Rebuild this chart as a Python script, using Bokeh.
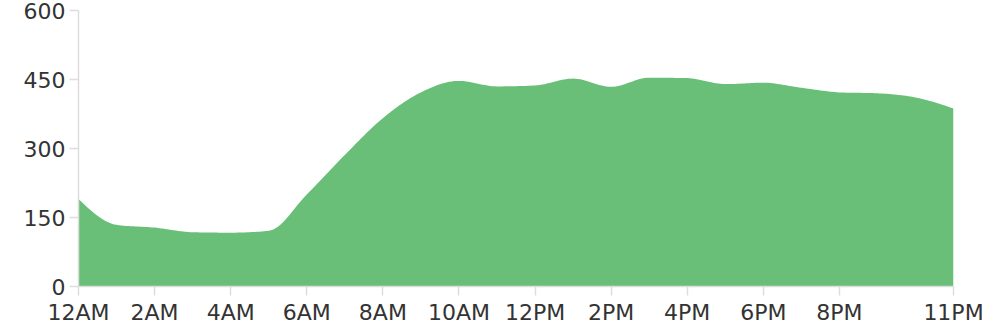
from bokeh.plotting import figure
from bokeh.models import Range1d, FixedTicker, ColumnDataSource
from bokeh.embed import file_html
from bokeh.resources import INLINE

# Data: hourly values
hours = list(range(24))
counts = [190, 134, 128, 118, 117, 121, 200, 286, 366, 422, 447, 435,
          437, 452, 434, 454, 453, 440, 443, 432, 422, 420, 411, 387]

x_ticks = [0, 2, 4, 6, 8, 10, 12, 14, 16, 18, 20, 23]
x_tick_labels = ["12AM", "2AM", "4AM", "6AM", "8AM", "10AM", "12PM",
                 "2PM", "4PM", "6PM", "8PM", "11PM"]
y_ticks = [0, 150, 300, 450, 600]

FONT = "DejaVu Sans"
FONT_SIZE = "22px"
AXIS_COLOR = "#dddddd"
TEXT_COLOR = "#333333"


def monotone_curve(xs, ys, steps=16):
    """Render a monotone-X cubic curve (like d3.curveMonotoneX) through the data."""
    n = len(xs)
    h = [xs[i + 1] - xs[i] for i in range(n - 1)]
    s = [(ys[i + 1] - ys[i]) / h[i] for i in range(n - 1)]
    t = [0.0] * n
    sign = lambda v: (v > 0) - (v < 0)
    for i in range(1, n - 1):
        s0, s1 = s[i - 1], s[i]
        p = (s0 * h[i] + s1 * h[i - 1]) / (h[i - 1] + h[i])
        t[i] = (sign(s0) + sign(s1)) * min(abs(s0), abs(s1), 0.5 * abs(p)) if (s0 * s1) > 0 else 0.0
    t[0] = (3 * s[0] - t[1]) / 2 if n > 2 else s[0]
    t[-1] = (3 * s[-1] - t[-2]) / 2 if n > 2 else s[-1]
    out_x, out_y = [], []
    for i in range(n - 1):
        x0, x1, y0, y1, dx = xs[i], xs[i + 1], ys[i], ys[i + 1], h[i]
        for k in range(steps):
            u = k / steps
            h00 = 2 * u**3 - 3 * u**2 + 1
            h10 = u**3 - 2 * u**2 + u
            h01 = -2 * u**3 + 3 * u**2
            h11 = u**3 - u**2
            out_x.append(x0 + u * dx)
            out_y.append(h00 * y0 + h10 * dx * t[i] + h01 * y1 + h11 * dx * t[i + 1])
    out_x.append(xs[-1])
    out_y.append(ys[-1])
    return out_x, out_y


cx, cy = monotone_curve(hours, counts)
src = ColumnDataSource(dict(x=cx, y=cy))

p = figure(width=987, height=327, output_backend="svg", toolbar_location=None,
           x_range=Range1d(0, 23), y_range=Range1d(0, 600),
           min_border_left=78, min_border_right=34, min_border_top=10, min_border_bottom=40)
p.outline_line_color = None
p.grid.visible = False
p.background_fill_color = "white"
p.border_fill_color = "white"

p.varea(x="x", y1=0, y2="y", source=src, fill_color="#69bf78", fill_alpha=1.0)

for ax in (p.xaxis[0], p.yaxis[0]):
    ax.axis_line_color = AXIS_COLOR
    ax.axis_line_width = 1.5
    ax.major_tick_line_color = AXIS_COLOR
    ax.major_tick_line_width = 1.5
    ax.major_tick_in = 0
    ax.major_tick_out = 9
    ax.minor_tick_line_color = None
    ax.major_label_text_font = FONT
    ax.major_label_text_font_size = FONT_SIZE
    ax.major_label_text_color = TEXT_COLOR
    ax.major_label_standoff = 4

p.xaxis[0].ticker = FixedTicker(ticks=x_ticks)
p.xaxis[0].major_label_overrides = {t: lab for t, lab in zip(x_ticks, x_tick_labels)}
p.yaxis[0].ticker = FixedTicker(ticks=y_ticks)

open("out.html", "w").write(file_html(p, INLINE))
